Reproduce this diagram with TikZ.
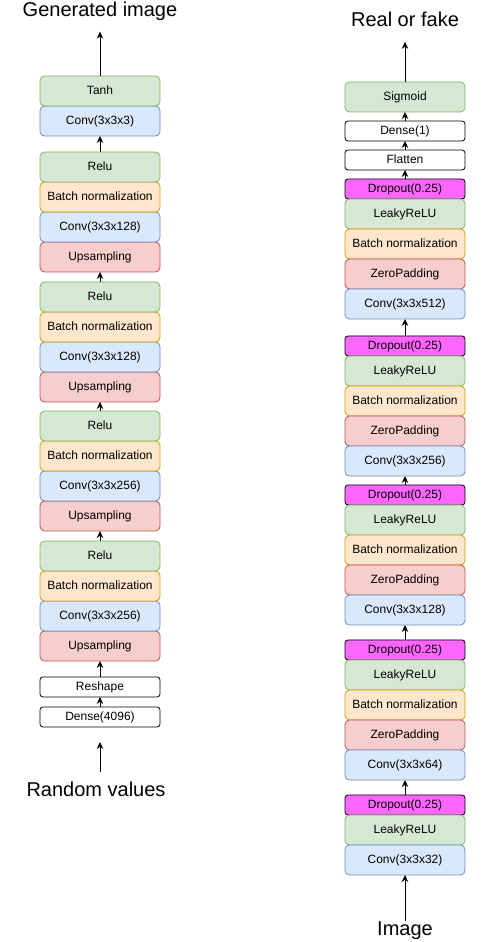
\documentclass[tikz,border=0pt]{standalone}
\usepackage{fontspec}
\setmainfont{Liberation Sans}
\usetikzlibrary{positioning, arrows.meta}

\definecolor{grnfill}{HTML}{D5E8D4}
\definecolor{grnline}{HTML}{82B366}
\definecolor{blufill}{HTML}{DAE8FC}
\definecolor{bluline}{HTML}{6C8EBF}
\definecolor{orafill}{HTML}{FFE6CC}
\definecolor{oraline}{HTML}{D79B00}
\definecolor{redfill}{HTML}{F8CECC}
\definecolor{redline}{HTML}{B85450}
\definecolor{dropfill}{HTML}{FF66FF}

\begin{document}
\begin{tikzpicture}[
  x=1pt, y=1pt,
  font=\fontsize{12}{14}\selectfont,
  layer/.style={minimum width=120pt, minimum height=30pt, inner sep=0pt, outer sep=0pt,
    rounded corners=4.5pt, line width=0.8pt, text height=8.7pt, text depth=2.6pt},
  act/.style={layer, draw=grnline, fill=grnfill},
  conv/.style={layer, draw=bluline, fill=blufill},
  bnorm/.style={layer, draw=oraline, fill=orafill},
  resize/.style={layer, draw=redline, fill=redfill},
  slim/.style={layer, minimum height=20pt, rounded corners=3pt, draw=black},
  plain/.style={slim, fill=white},
  drop/.style={slim, fill=dropfill},
  title/.style={font=\fontsize{20}{24}\selectfont, inner sep=0pt, outer sep=0pt, anchor=base},
  flow/.style={-{Stealth[length=7pt, width=6.5pt]}, line width=0.9pt}
]
\useasboundingbox (0,0) rectangle (501,942);

% --- generator (left) ---
\node[plain] (dense) at (100,225) {Dense(4096)};
\node[plain] (reshape) at (100,255) {Reshape};

\node[resize] (up1) at (100,296) {Upsampling};
\node[conv, above=0pt of up1] (cv1) {Conv(3x3x256)};
\node[bnorm, above=0pt of cv1] (bn1) {Batch normalization};
\node[act, above=0pt of bn1] (re1) {Relu};

\node[resize] (up2) at (100,426) {Upsampling};
\node[conv, above=0pt of up2] (cv2) {Conv(3x3x256)};
\node[bnorm, above=0pt of cv2] (bn2) {Batch normalization};
\node[act, above=0pt of bn2] (re2) {Relu};

\node[resize] (up3) at (100,555) {Upsampling};
\node[conv, above=0pt of up3] (cv3) {Conv(3x3x128)};
\node[bnorm, above=0pt of cv3] (bn3) {Batch normalization};
\node[act, above=0pt of bn3] (re3) {Relu};

\node[resize] (up4) at (100,685) {Upsampling};
\node[conv, above=0pt of up4] (cv4) {Conv(3x3x128)};
\node[bnorm, above=0pt of cv4] (bn4) {Batch normalization};
\node[act, above=0pt of bn4] (re4) {Relu};

\node[conv] (cvout) at (100,821) {Conv(3x3x3)};
\node[act, above=0pt of cvout] (tanh) {Tanh};

\node[title] (gen) at (100,925.5) {Generated image};
\node[title] (rand) at (96,145) {Random values};

\draw[flow, shorten <=11pt, shorten >=15pt] (rand.north -| dense) -- (dense.south);
\draw[flow] (dense.north) -- (reshape.south);
\draw[flow] (reshape.north) -- (up1.south);
\draw[flow] (re1.north) -- (up2.south);
\draw[flow] (re2.north) -- (up3.south);
\draw[flow] (re3.north) -- (up4.south);
\draw[flow] (re4.north) -- (cvout.south);
\draw[flow, shorten >=11pt] (tanh.north) -- (gen.south);

% --- discriminator (right) ---
\node[act] (sigm) at (405,845) {Sigmoid};
\node[plain] (dense1) at (405,811) {Dense(1)};
\node[plain] (flat) at (405,782) {Flatten};

\node[drop] (dropA) at (405,753) {Dropout(0.25)};
\node[act, below=0pt of dropA] (lrA) {LeakyReLU};
\node[bnorm, below=0pt of lrA] (bnA) {Batch normalization};
\node[resize, below=0pt of bnA] (zpA) {ZeroPadding};
\node[conv, below=0pt of zpA] (cvA) {Conv(3x3x512)};

\node[drop] (dropB) at (405,596) {Dropout(0.25)};
\node[act, below=0pt of dropB] (lrB) {LeakyReLU};
\node[bnorm, below=0pt of lrB] (bnB) {Batch normalization};
\node[resize, below=0pt of bnB] (zpB) {ZeroPadding};
\node[conv, below=0pt of zpB] (cvB) {Conv(3x3x256)};

\node[drop] (dropC) at (405,447) {Dropout(0.25)};
\node[act, below=0pt of dropC] (lrC) {LeakyReLU};
\node[bnorm, below=0pt of lrC] (bnC) {Batch normalization};
\node[resize, below=0pt of bnC] (zpC) {ZeroPadding};
\node[conv, below=0pt of zpC] (cvC) {Conv(3x3x128)};

\node[drop] (dropD) at (405,292) {Dropout(0.25)};
\node[act, below=0pt of dropD] (lrD) {LeakyReLU};
\node[bnorm, below=0pt of lrD] (bnD) {Batch normalization};
\node[resize, below=0pt of bnD] (zpD) {ZeroPadding};
\node[conv, below=0pt of zpD] (cvD) {Conv(3x3x64)};

\node[drop] (dropE) at (405,137) {Dropout(0.25)};
\node[act, below=0pt of dropE] (lrE) {LeakyReLU};
\node[conv, below=0pt of lrE] (cvE) {Conv(3x3x32)};

\node[title] (real) at (405,915.3) {Real or fake};
\node[title] (img) at (405,6.3) {Image};

\draw[flow, shorten <=1pt] (img.north) -- (cvE.south);
\draw[flow] (dropE.north) -- (cvD.south);
\draw[flow] (dropD.north) -- (cvC.south);
\draw[flow] (dropC.north) -- (cvB.south);
\draw[flow] (dropB.north) -- (cvA.south);
\draw[flow] (dropA.north) -- (flat.south);
\draw[flow] (flat.north) -- (dense1.south);
\draw[flow] (dense1.north) -- (sigm.south);
\draw[flow, shorten >=15pt] (sigm.north) -- (real.south);

\end{tikzpicture}
\end{document}
